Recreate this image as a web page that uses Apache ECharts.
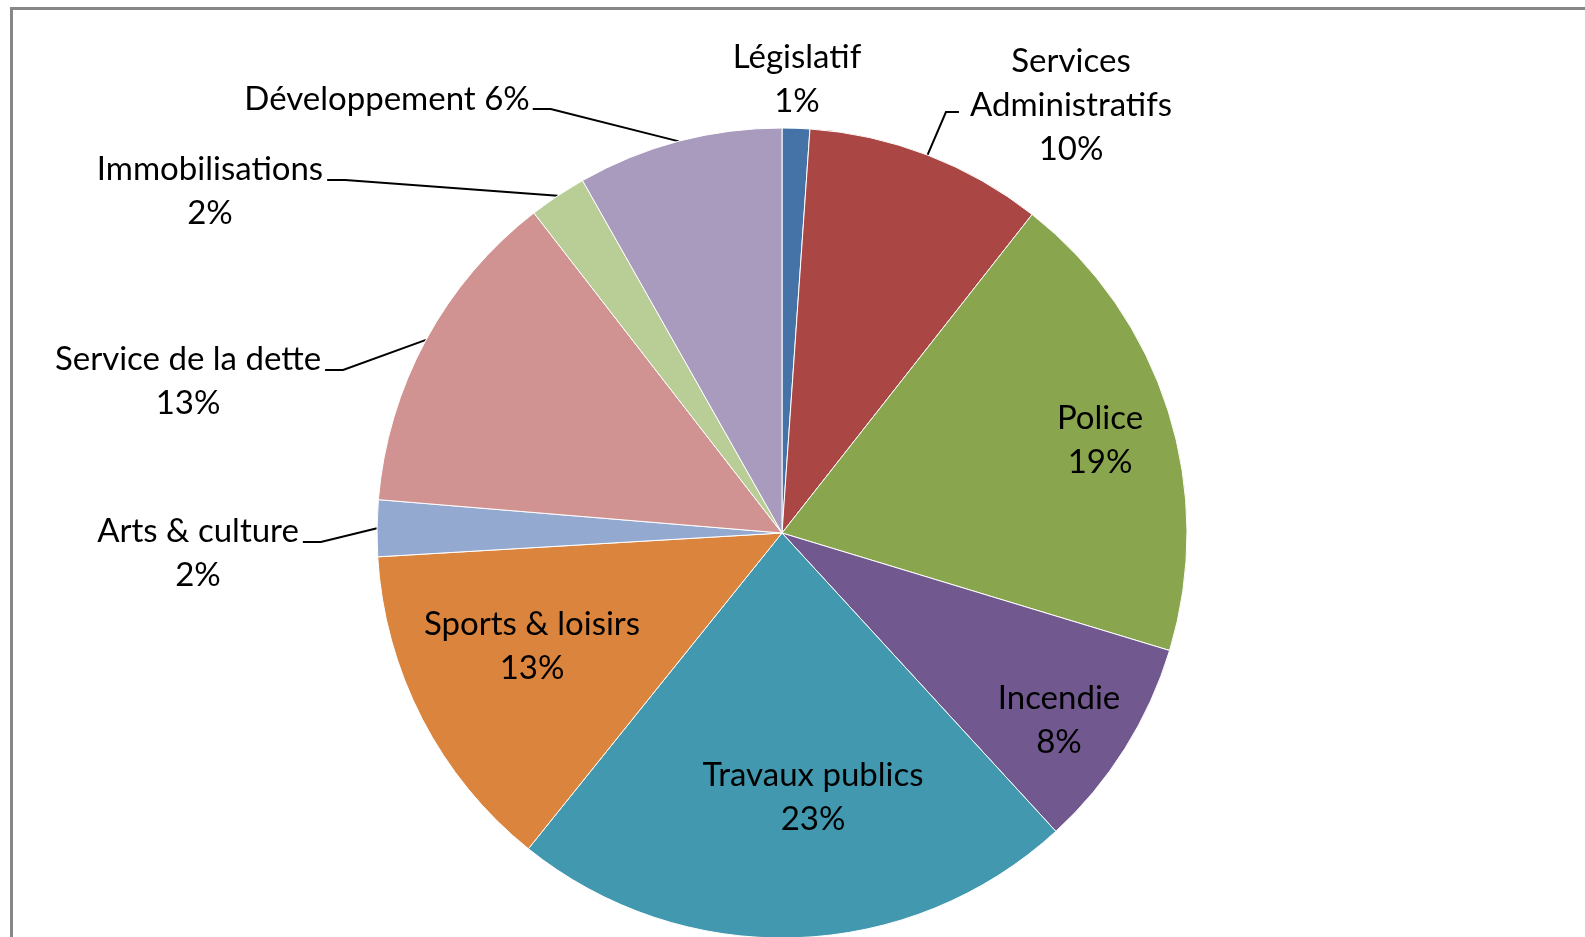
<!DOCTYPE html>
<html><head><meta charset="utf-8">
<script src="https://cdn.jsdelivr.net/npm/echarts@6/dist/echarts.min.js"></script>
<style>html,body{margin:0;padding:0;background:#fff}#c{width:1585px;height:937px}</style>
</head><body><div id="c"></div>
<script>
// ---- data ----
const categories = ['Législatif','Services Administratifs','Police','Incendie','Travaux publics','Sports & loisirs','Arts & culture','Service de la dette','Immobilisations','Développement'];
const values = [1.1, 9.5, 19.1, 8.5, 22.6, 13.3, 2.25, 13.2, 2.3, 8.2];
const pctLabels = [1, 10, 19, 8, 23, 13, 2, 13, 2, 6];
const colors = ['#4572A7','#AA4643','#89A54E','#71588F','#4198AF','#DB843D','#93A9CF','#D19392','#B9CD96','#A99BBD'];

// ---- layout ----
const CX = 782, CY = 533, R = 405, LH = 44, FS = 33;
const place = [
  {x: 797,  y: 79,  line: 'none'},
  {x: 1071, y: 105, line: 'right'},
  {x: 1100, y: 440},
  {x: 1059, y: 720},
  {x: 813,  y: 797},
  {x: 532,  y: 646},
  {x: 198,  y: 553, line: 'left'},
  {x: 188,  y: 381, line: 'left'},
  {x: 210,  y: 191, line: 'left'},
  {x: 387,  y: 99,  line: 'left1'}
];
const total = values.reduce((a, b) => a + b, 0);
const midAngles = [];
{ let acc = 0; values.forEach(v => { midAngles.push((acc + v / 2) / total * 2 * Math.PI); acc += v; }); }

const chart = echarts.init(document.getElementById('c'), null, {renderer: 'canvas'});
chart.setOption({
  animation: false,
  backgroundColor: '#fff',
  graphic: [{
    type: 'rect', left: 9, top: 6, silent: true,
    shape: {x: 0, y: 0, width: 1620, height: 1000},
    style: {fill: 'none', stroke: '#878787', lineWidth: 3}
  }],
  series: [{
    type: 'pie',
    center: [CX, CY],
    radius: [0, R],
    startAngle: 90,
    clockwise: true,
    avoidLabelOverlap: false,
    emphasis: {disabled: true},
    itemStyle: {borderColor: '#fff', borderWidth: 1},
    label: {
      color: '#000', fontFamily: 'Lato', fontSize: FS, lineHeight: LH,
      formatter: function (p) {
        const i = p.dataIndex;
        let n = categories[i];
        if (i === 1) n = n.replace(' ', '\n');
        return n + (place[i].line === 'left1' ? ' ' : '\n') + pctLabels[i] + '%';
      }
    },
    labelLine: {lineStyle: {color: '#000', width: 2}},
    labelLayout: function (params) {
      const i = params.dataIndex;
      const pl = place[i];
      const w = params.labelRect.width;
      const out = {x: pl.x, y: pl.y, align: 'center', verticalAlign: 'middle'};
      if (pl.line && pl.line !== 'none') {
        const a = midAngles[i];
        const p0 = [CX + R * Math.sin(a), CY - R * Math.cos(a)];
        let p1, p2;
        if (pl.line === 'left') { p2 = [pl.x + w / 2 + 4, pl.y - 11]; p1 = [p2[0] + 18, p2[1]]; }
        else if (pl.line === 'left1') { p2 = [pl.x + w / 2 + 3, pl.y + 10]; p1 = [p2[0] + 18, p2[1]]; }
        else { p2 = [pl.x - w / 2 - 11, pl.y + 7]; p1 = [p2[0] - 13, p2[1]]; }
        out.labelLinePoints = [p0, p1, p2];
      }
      return out;
    },
    data: categories.map((n, i) => ({
      name: n, value: values[i],
      itemStyle: {color: colors[i]},
      label: {position: place[i].line ? 'outside' : 'inside'},
      labelLine: {show: !!place[i].line && place[i].line !== 'none'}
    }))
  }]
});
</script></body></html>
